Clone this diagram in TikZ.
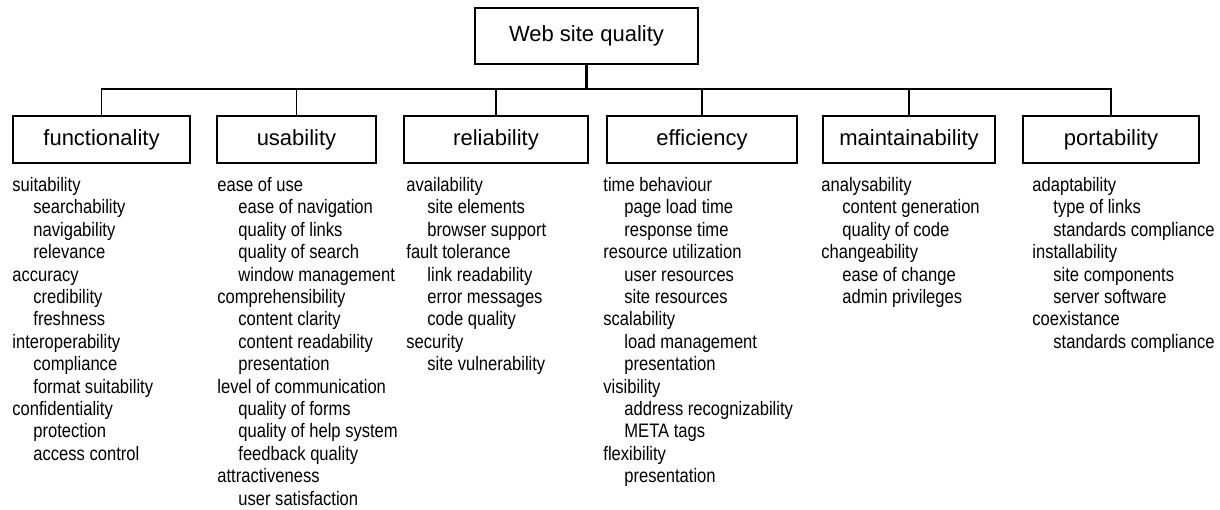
\documentclass[tikz,border=0pt]{standalone}
\usepackage{fontspec}
\setmainfont{Liberation Sans}
\newfontfamily\listfont[FakeStretch=0.85]{Liberation Sans}
\usepackage{tikz}
\usetikzlibrary{positioning,calc}
\newcommand\ind{\hspace*{10.5pt}}
\tikzset{box/.style={draw, line width=0.75pt, inner sep=0pt, minimum height=23.5pt,
           font=\fontsize{11}{13}\selectfont},
         sublist/.style={anchor=north west, inner sep=0pt, align=left,
           font=\listfont\fontsize{9.75}{11.2}\selectfont},
         link/.style={line width=0.75pt}}

\begin{document}
\begin{tikzpicture}[x=0.5pt,y=-0.5pt]
  \useasboundingbox (0,0) rectangle (1220,509);
  \node[box, minimum width=111.5pt, minimum height=28pt] (wsq) at (586.5,36) {Web site quality};
  \coordinate (bar) at (586.5,89);
  % characteristics
  \node[box, minimum width=88.5pt] (func) at (101.5,139.5) {functionality};
  \node[box, minimum width=79.5pt] (usab) at (296.5,139.5) {usability};
  \node[box, minimum width=92pt]   (reli) at (496,139.5) {reliability};
  \node[box, minimum width=95pt]   (effi) at (702,139.5) {efficiency};
  \node[box, minimum width=86pt]   (main) at (909,139.5) {maintainability};
  \node[box, minimum width=88pt]   (port) at (1111,139.5) {portability};
  \draw[line width=1.2pt] (wsq.south) -- (bar);
  \draw[link] (func.north) |- (bar) -| (port.north);
  \foreach \n in {usab,reli,effi,main}
    \draw[link] (\n.north) -- (\n.north |- bar);
  % sub-characteristics
  \node[sublist] (funclist) at (12,177) {suitability\\ \ind searchability\\ \ind navigability\\
    \ind relevance\\ accuracy\\ \ind credibility\\ \ind freshness\\ interoperability\\
    \ind compliance\\ \ind format suitability\\ confidentiality\\ \ind protection\\
    \ind access control};
  \node[sublist] (usablist) at (217,177) {ease of use\\ \ind ease of navigation\\
    \ind quality of links\\ \ind quality of search\\ \ind window management\\
    comprehensibility\\ \ind content clarity\\ \ind content readability\\
    \ind presentation\\ level of communication\\ \ind quality of forms\\
    \ind quality of help system\\ \ind feedback quality\\ attractiveness\\
    \ind user satisfaction};
  \node[sublist] (relilist) at (406,177) {availability\\ \ind site elements\\
    \ind browser support\\ fault tolerance\\ \ind link readability\\
    \ind error messages\\ \ind code quality\\ security\\ \ind site vulnerability};
  \node[sublist] (effilist) at (603,177) {time behaviour\\ \ind page load time\\
    \ind response time\\ resource utilization\\ \ind user resources\\
    \ind site resources\\ scalability\\ \ind load management\\ \ind presentation\\
    visibility\\ \ind address recognizability\\ \ind META tags\\ flexibility\\
    \ind presentation};
  \node[sublist] (mainlist) at (821,177) {analysability\\ \ind content generation\\
    \ind quality of code\\ changeability\\ \ind ease of change\\ \ind admin privileges};
  \node[sublist] (portlist) at (1032,177) {adaptability\\ \ind type of links\\
    \ind standards compliance\\ installability\\ \ind site components\\
    \ind server software\\ coexistance\\ \ind standards compliance};
\end{tikzpicture}
\end{document}
